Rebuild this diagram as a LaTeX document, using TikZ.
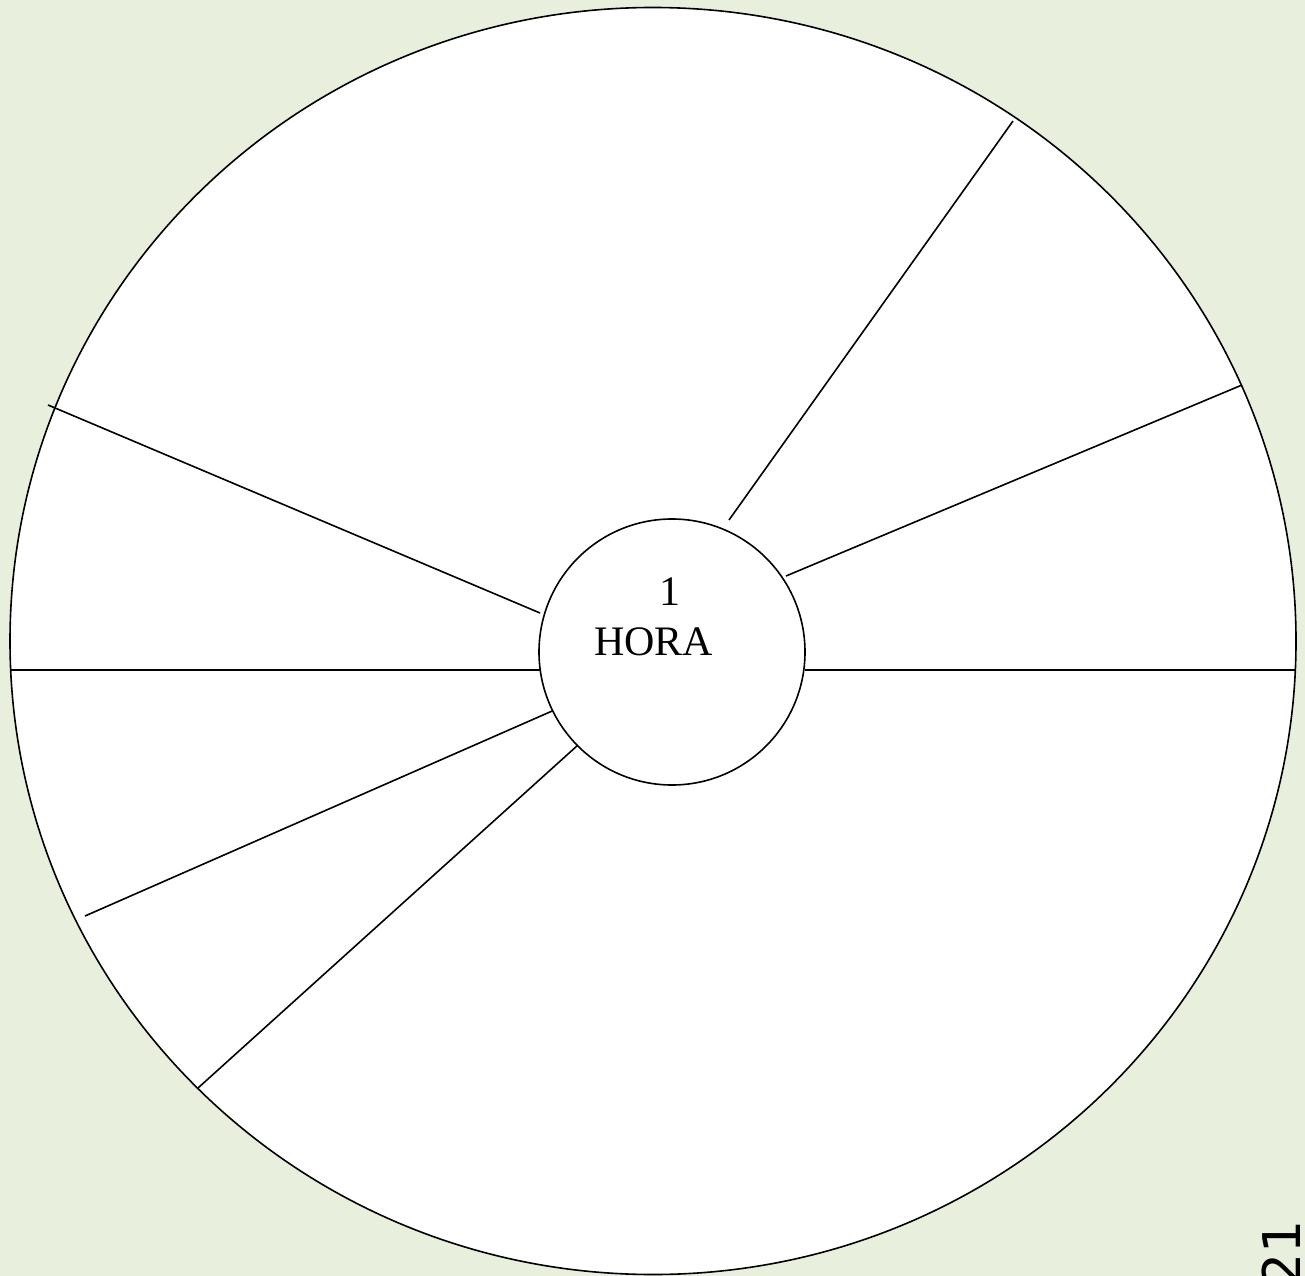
\documentclass[tikz,border=0pt]{standalone}
\usepackage{fontspec}
\setmainfont{Liberation Serif}
\newfontfamily\pagefont{DejaVu Sans}
\definecolor{bgreen}{HTML}{E8F0DD}
\begin{document}
\begin{tikzpicture}[x=0.75pt,y=-0.75pt,
  edge/.style={draw=black,line width=1.2pt},
  lbl/.style={font=\fontsize{31.5}{36}\selectfont,inner sep=0pt}]
\useasboundingbox (0,0) rectangle (1305,1276);
\fill[bgreen] (0,0) rectangle (1305,1276);
\draw[edge,fill=white] (653,641) ellipse [x radius=643, y radius=633.5];
% spoke end points
\coordinate (a1) at (729,520);  \coordinate (b1) at (1013,121);
\coordinate (a2) at (786,576);  \coordinate (b2) at (1242,385);
\coordinate (a3) at (805,670);  \coordinate (b3) at (1296,670);
\coordinate (a4) at (542,670);  \coordinate (b4) at (10,670);
\coordinate (a5) at (540,613);  \coordinate (b5) at (48,405);
\coordinate (a6) at (559,708);  \coordinate (b6) at (85,916);
\coordinate (a7) at (578,745);  \coordinate (b7) at (198,1088);
\foreach \i in {1,...,7} {\draw[edge] (a\i) -- (b\i);}
\node[edge,fill=white,circle,minimum size=199.5pt,inner sep=0pt] (hub) at (672,652) {};
\node[lbl,anchor=base] (one) at (670,605) {1};
\node[lbl,anchor=base] (hora) at (653.5,655) {HORA};
\node[font=\pagefont\fontsize{39}{44}\selectfont,rotate=90,anchor=base west,inner sep=0pt] (pg) at (1300,1287) {21};
\end{tikzpicture}
\end{document}
